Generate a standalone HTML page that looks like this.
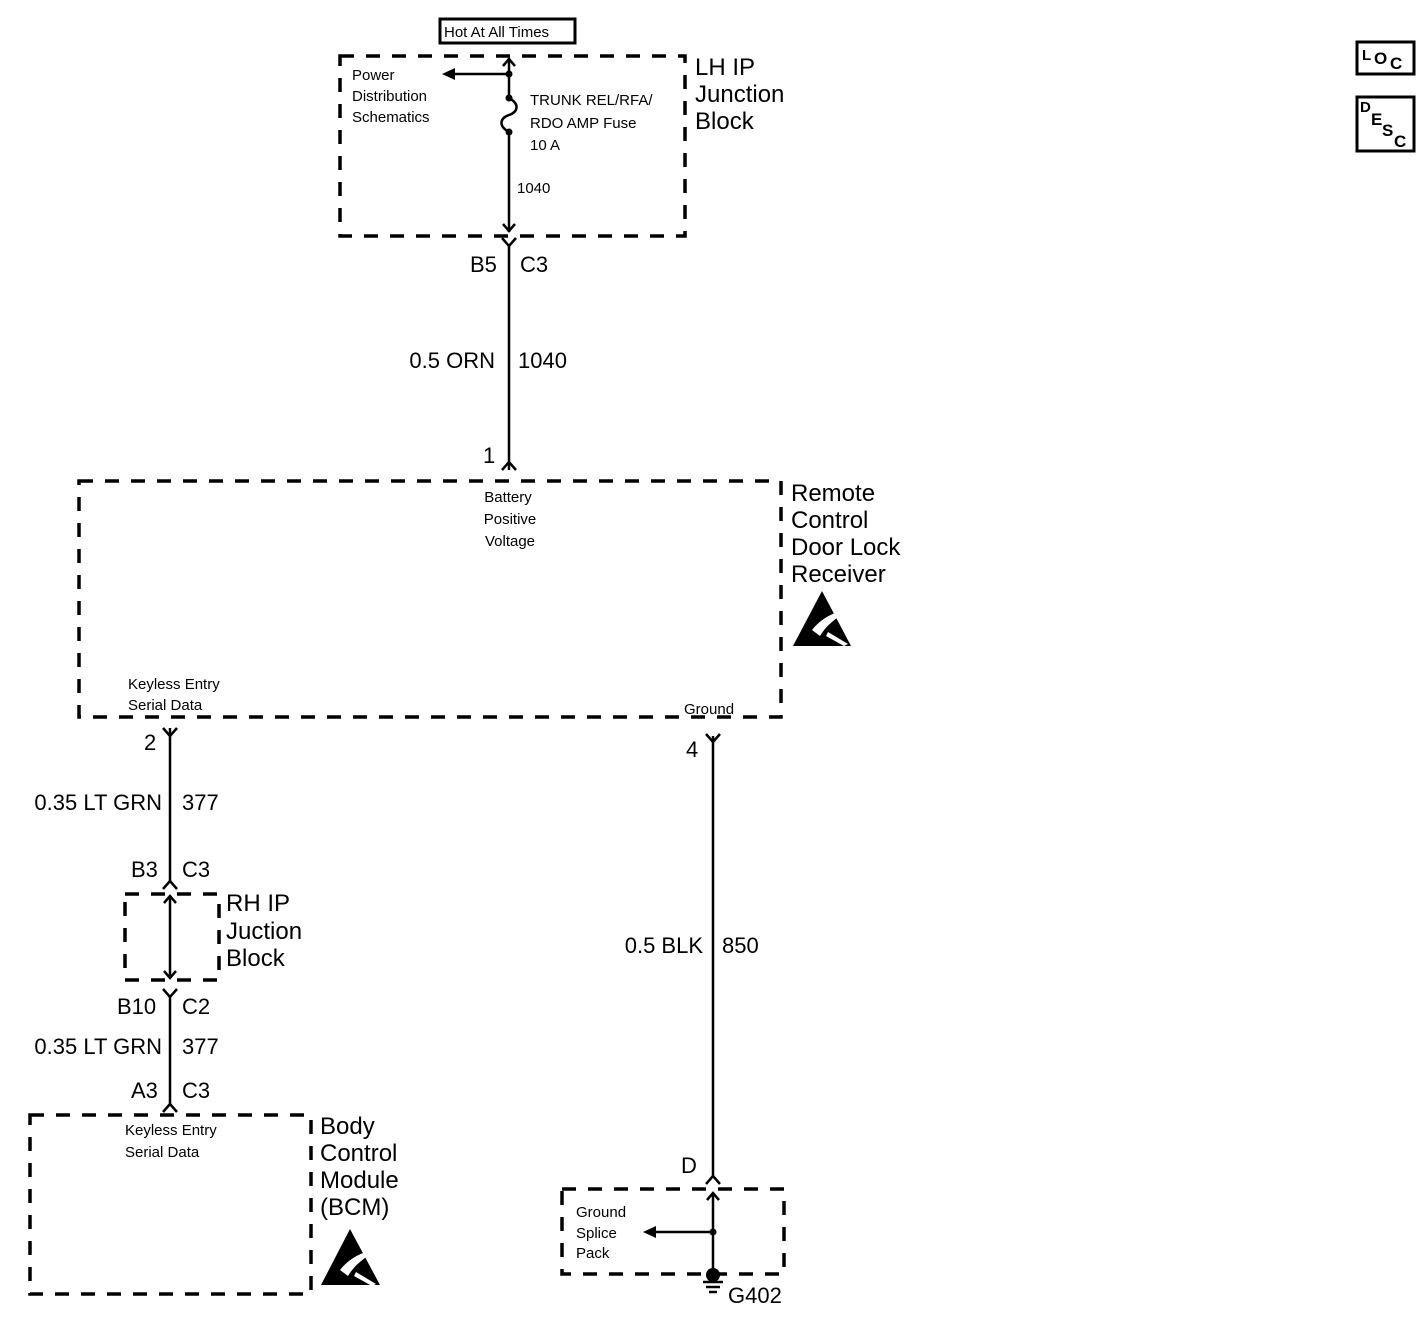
<!DOCTYPE html>
<html><head><style>
html,body{margin:0;padding:0;background:#fff;}
svg{display:block;}
text{font-family:"Liberation Sans",sans-serif;fill:#000;}
.s{font-size:15px;}
.m{font-size:22px;}
.l{font-size:24px;}
</style></head><body>
<svg width="1426" height="1328" viewBox="0 0 1426 1328" xmlns="http://www.w3.org/2000/svg">
<g fill="none" stroke="#000">
 <g stroke-width="3.5" stroke-dasharray="14,12">
  <rect x="340" y="56" width="345" height="180"/>
  <rect x="79" y="481" width="702" height="236"/>
  <rect x="125" y="894" width="94" height="86"/>
  <rect x="30" y="1115" width="281" height="179"/>
  <rect x="562" y="1189" width="222" height="85"/>
 </g>
 <rect x="440" y="19" width="135" height="24" stroke-width="3"/>
 <g stroke-width="2.5">
  <line x1="509" y1="58" x2="509" y2="98"/>
  <path d="M509 98 C520 104 518 112 509 115 C500 118 498 126 509 132"/>
  <line x1="509" y1="132" x2="509" y2="232"/>
  <line x1="509" y1="74" x2="450" y2="74"/>
  <line x1="509" y1="246" x2="509" y2="470"/>
  <line x1="170" y1="728" x2="170" y2="882"/>
  <line x1="170" y1="896" x2="170" y2="978"/>
  <line x1="170" y1="995" x2="170" y2="1105"/>
  <line x1="713" y1="736" x2="713" y2="1178"/>
  <line x1="713" y1="1193" x2="713" y2="1275"/>
  <line x1="713" y1="1232" x2="652" y2="1232"/>
 </g>
 <g stroke-width="2.5">
  <path d="M503 66 L509 59 L515 66"/>
  <path d="M503 224 L509 231 L515 224"/>
  <path d="M502 238 L509 246 L516 238"/>
  <path d="M502 470 L509 462 L516 470"/>
  <path d="M163 728 L170 736 L177 728"/>
  <path d="M163 889 L170 881 L177 889"/>
  <path d="M164 903 L170 896 L176 903"/>
  <path d="M164 971 L170 978 L176 971"/>
  <path d="M163 989 L170 997 L177 989"/>
  <path d="M163 1112 L170 1104 L177 1112"/>
  <path d="M706 734 L713 742 L720 734"/>
  <path d="M706 1184 L713 1176 L720 1184"/>
  <path d="M707 1200 L713 1193 L719 1200"/>
 </g>
 <g stroke-width="2.5">
  <line x1="703" y1="1282" x2="723" y2="1282"/>
  <line x1="706" y1="1287" x2="720" y2="1287"/>
  <line x1="709" y1="1292" x2="717" y2="1292"/>
 </g>
 <rect x="1357" y="42" width="57" height="32" stroke-width="3"/>
 <rect x="1357" y="97" width="57" height="54" stroke-width="3"/>
</g>
<g fill="#000">
 <polygon points="442,74 455,68 455,80"/>
 <polygon points="643,1232 656,1226 656,1238"/>
 <circle cx="509" cy="74" r="3.5"/>
 <circle cx="509" cy="98" r="3.5"/>
 <circle cx="509" cy="132" r="3.5"/>
 <circle cx="713" cy="1232" r="3.5"/>
 <circle cx="713" cy="1275" r="7"/>
 <polygon points="822,591 793,646 851,646"/>
 <polygon points="350,1229 321,1285 380,1285"/>
</g>
<g fill="#fff">
 <path d="M812 630 C820 620 828 616 835 613 L838 617 C832 622 826 626 820 636 Z"/>
 <path d="M828 632 L848 644 L844 646 L826 636 Z"/>
 <path d="M340 1270 C348 1260 356 1256 363 1253 L366 1257 C360 1262 354 1266 348 1276 Z"/>
 <path d="M356 1272 L376 1284 L372 1286 L354 1276 Z"/>
</g>
<text class="s" x="444" y="37">Hot At All Times</text>
<text class="s" x="352" y="80">Power</text>
<text class="s" x="352" y="101">Distribution</text>
<text class="s" x="352" y="122">Schematics</text>
<text class="s" x="530" y="105">TRUNK REL/RFA/</text>
<text class="s" x="530" y="128">RDO AMP Fuse</text>
<text class="s" x="530" y="150">10 A</text>
<text class="s" x="517" y="193">1040</text>
<text class="l" x="695" y="75">LH IP</text>
<text class="l" x="695" y="102">Junction</text>
<text class="l" x="695" y="129">Block</text>
<text class="m" x="470" y="272">B5</text>
<text class="m" x="520" y="272">C3</text>
<text class="m" x="495" y="368" text-anchor="end">0.5 ORN</text>
<text class="m" x="518" y="368">1040</text>
<text class="m" x="483" y="463">1</text>
<text class="s" x="508" y="502" text-anchor="middle">Battery</text>
<text class="s" x="510" y="524" text-anchor="middle">Positive</text>
<text class="s" x="510" y="546" text-anchor="middle">Voltage</text>
<text class="l" x="791" y="501">Remote</text>
<text class="l" x="791" y="528">Control</text>
<text class="l" x="791" y="555">Door Lock</text>
<text class="l" x="791" y="582">Receiver</text>
<text class="s" x="128" y="689">Keyless Entry</text>
<text class="s" x="128" y="710">Serial Data</text>
<text class="s" x="684" y="714">Ground</text>
<text class="m" x="144" y="750">2</text>
<text class="m" x="686" y="757">4</text>
<text class="m" x="162" y="810" text-anchor="end">0.35 LT GRN</text>
<text class="m" x="182" y="810">377</text>
<text class="m" x="131" y="877">B3</text>
<text class="m" x="182" y="877">C3</text>
<text class="l" x="226" y="911">RH IP</text>
<text class="l" x="226" y="939">Juction</text>
<text class="l" x="226" y="966">Block</text>
<text class="m" x="117" y="1014">B10</text>
<text class="m" x="182" y="1014">C2</text>
<text class="m" x="162" y="1054" text-anchor="end">0.35 LT GRN</text>
<text class="m" x="182" y="1054">377</text>
<text class="m" x="131" y="1098">A3</text>
<text class="m" x="182" y="1098">C3</text>
<text class="s" x="125" y="1135">Keyless Entry</text>
<text class="s" x="125" y="1157">Serial Data</text>
<text class="l" x="320" y="1134">Body</text>
<text class="l" x="320" y="1161">Control</text>
<text class="l" x="320" y="1188">Module</text>
<text class="l" x="320" y="1215">(BCM)</text>
<text class="m" x="703" y="953" text-anchor="end">0.5 BLK</text>
<text class="m" x="722" y="953">850</text>
<text class="m" x="681" y="1173">D</text>
<text class="s" x="576" y="1217">Ground</text>
<text class="s" x="576" y="1238">Splice</text>
<text class="s" x="576" y="1258">Pack</text>
<text class="m" x="728" y="1303">G402</text>
<text style="font-size:15px;font-weight:bold" x="1362" y="60">L</text>
<text style="font-size:17px;font-weight:bold" x="1374" y="64">O</text>
<text style="font-size:17px;font-weight:bold" x="1390" y="69">C</text>
<text style="font-size:15px;font-weight:bold" x="1360" y="112">D</text>
<text style="font-size:17px;font-weight:bold" x="1371" y="125">E</text>
<text style="font-size:17px;font-weight:bold" x="1382" y="136">S</text>
<text style="font-size:17px;font-weight:bold" x="1394" y="147">C</text>
</svg>
</body></html>
